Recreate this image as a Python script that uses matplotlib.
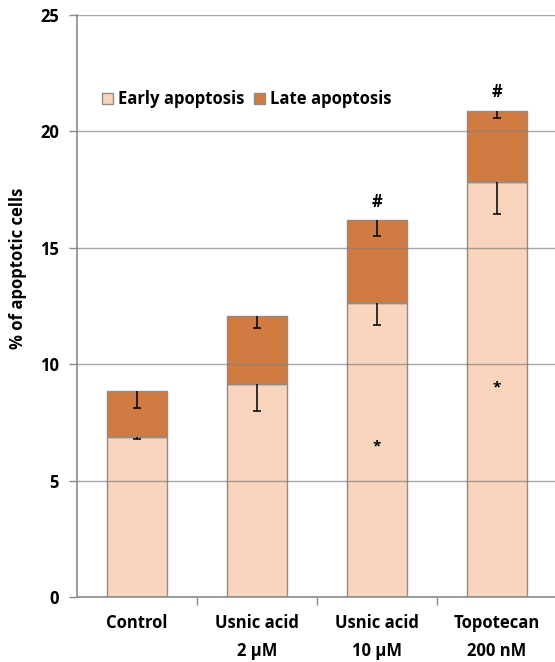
import matplotlib.pyplot as plt
import numpy as np

plt.rcParams['font.family'] = ['Open Sans', 'DejaVu Sans']
plt.rcParams['font.weight'] = 'bold'

categories = ["Control", "Usnic acid\n2 \u00b5M", "Usnic acid\n10 \u00b5M", "Topotecan\n200 nM"]
early = [6.87, 9.15, 12.62, 17.84]
late = [1.99, 2.92, 3.57, 3.05]
early_err = [0.10, 1.16, 0.94, 1.40]
late_err = [0.76, 0.52, 0.67, 0.29]
hash_marks = ["", "", "#", "#"]
star_pos = [None, None, 6.46, 9.0]

early_color = "#F8D5BC"
late_color = "#D07B41"
edge = "#8C8C8C"

fig = plt.figure(figsize=(5.55, 6.62), dpi=100)
ax = fig.add_axes([0.1387, 0.0982, 0.865, 0.879])

x = np.arange(len(categories))
early = np.array(early)
late = np.array(late)
total = early + late
early_err = np.array(early_err)
late_err = np.array(late_err)

ax.bar(x, early, width=0.5, color=early_color, edgecolor=edge, linewidth=1.0,
       label="Early apoptosis", zorder=2)
ax.bar(x, late, width=0.5, bottom=early, color=late_color, edgecolor=edge, linewidth=1.0,
       label="Late apoptosis", zorder=2)

# error bars only drawn downward, cap only at the lower end
cap = 0.035
for tops, errs in [(early, early_err), (total, late_err)]:
    ax.vlines(x, tops - errs, tops, color="black", linewidth=1.1, zorder=4)
    ax.hlines(tops - errs, x - cap, x + cap, color="black", linewidth=1.1, zorder=4)

for i in range(len(categories)):
    if hash_marks[i]:
        ax.text(x[i], total[i] + 0.4, hash_marks[i], ha="center", va="bottom",
                fontsize=12, fontweight="bold")
    if star_pos[i] is not None:
        ax.text(x[i], star_pos[i], "*", ha="center", va="center",
                fontsize=11, fontweight="bold")

ax.set_xlim(-0.5, 3.5)
ax.set_ylim(0, 25)
ax.set_yticks([0, 5, 10, 15, 20, 25])
ax.set_xticks(x)
ax.set_xticklabels(categories, fontsize=12, fontweight="bold", linespacing=1.75)
ax.tick_params(axis="x", length=0, pad=12)
ax.set_xticks([0.5, 1.5, 2.5], minor=True)
ax.tick_params(axis="x", which="minor", length=6, color=edge, width=1)
ax.tick_params(axis="y", length=6, color=edge, width=1, labelsize=12, pad=7)
for lab in ax.get_yticklabels():
    lab.set_fontweight("bold")

ax.yaxis.grid(True, color="#808080", linewidth=1.0, alpha=0.7, zorder=3)
ax.set_axisbelow(False)

for s in ["top", "right"]:
    ax.spines[s].set_visible(False)
for s in ["left", "bottom"]:
    ax.spines[s].set_color(edge)
    ax.spines[s].set_linewidth(1.2)

ax.set_ylabel("% of apoptotic cells", fontsize=12, fontweight="bold")
ax.yaxis.set_label_coords(-0.104, 0.565)

leg = ax.legend(loc="center left", bbox_to_anchor=(0.052, 0.855), ncol=2, frameon=False,
                fontsize=12, handlelength=0.65, handleheight=0.65, handletextpad=0.3,
                columnspacing=0.6, borderpad=0, borderaxespad=0)

plt.savefig("out.png", dpi=100)
